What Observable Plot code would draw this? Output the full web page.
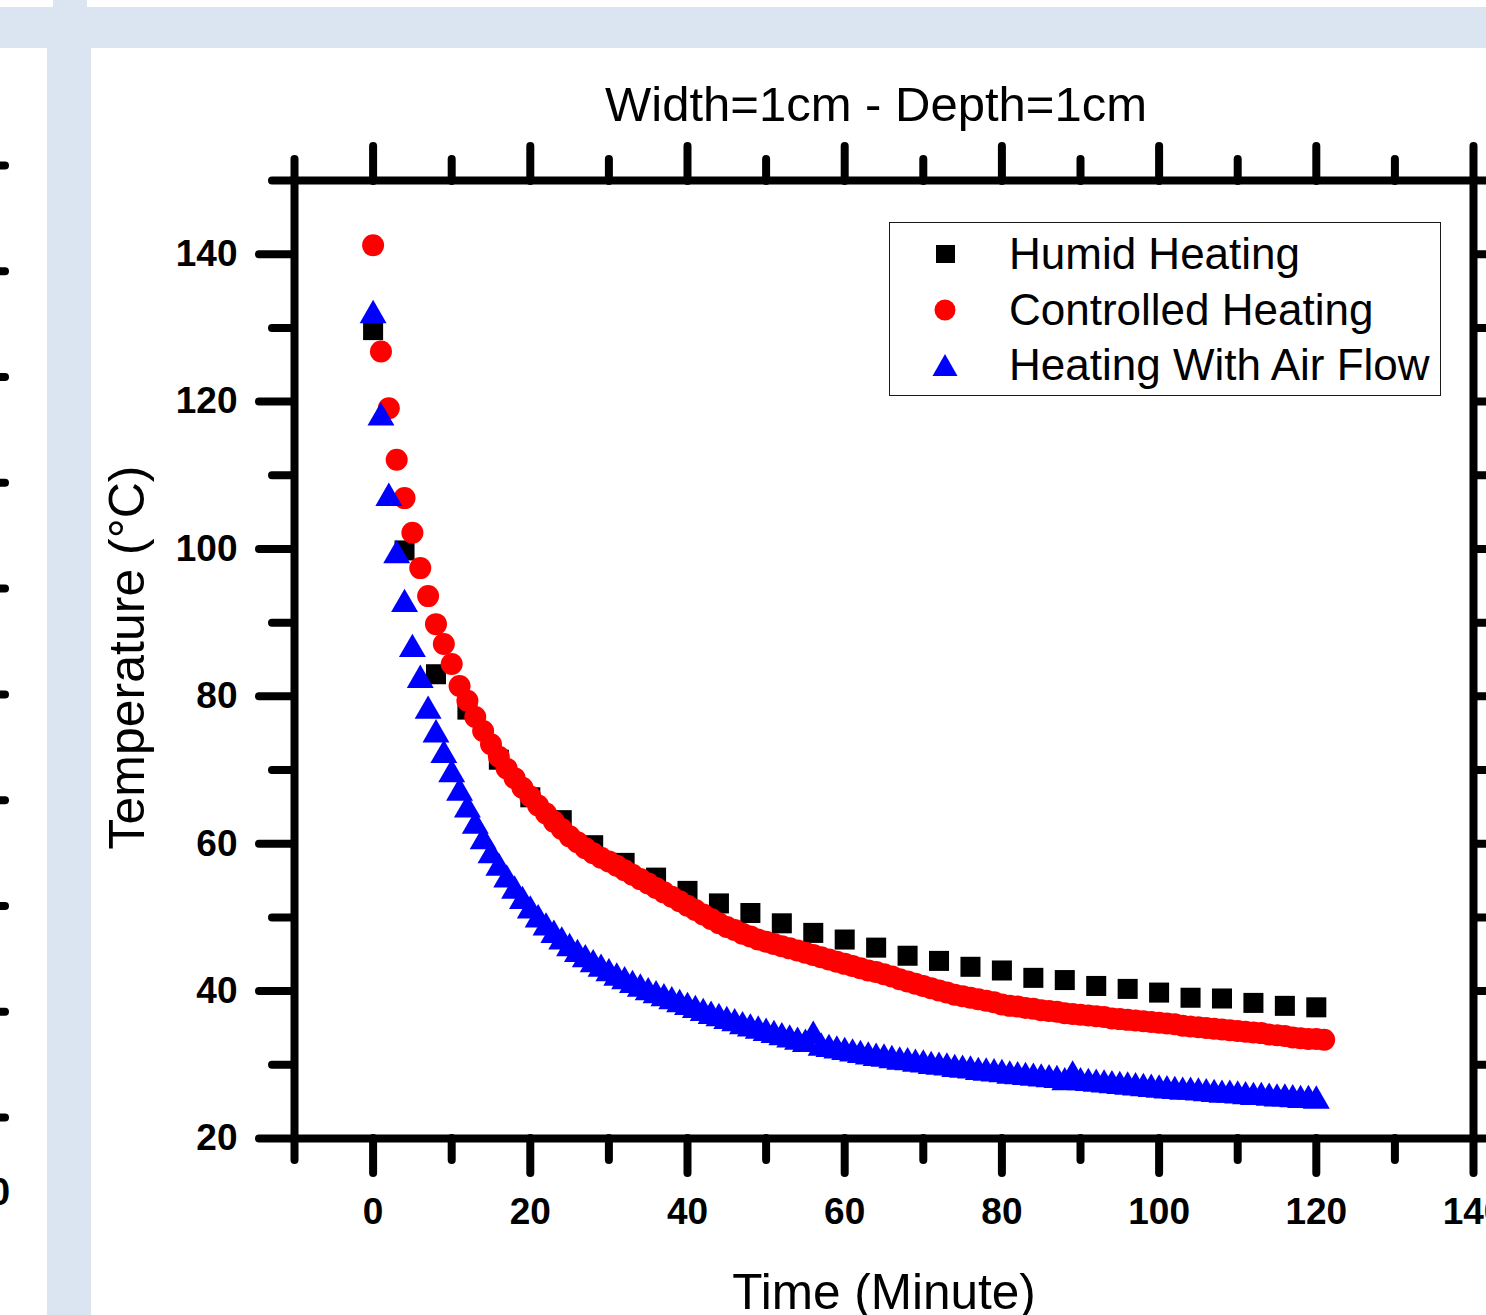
<!DOCTYPE html>
<html>
<head>
<meta charset="utf-8">
<script src="https://cdn.jsdelivr.net/npm/d3@7"></script>
<script src="https://cdn.jsdelivr.net/npm/@observablehq/plot@0.6"></script>
<style>
  html, body { margin: 0; padding: 0; background: #ffffff; }
  body { width: 1486px; height: 1315px; position: relative; overflow: hidden;
         font-family: Arial, "Liberation Sans", sans-serif; }
  .band { position: absolute; background: #dbe5f1; }
  #main { position: absolute; left: 91px; top: 50px; }
  #neighbor { position: absolute; left: 0px; top: 0px; }
  #legend { position: absolute; left: 889px; top: 222px; width: 550px; height: 172px;
            border: 1.5px solid #1a1a1a; background: #ffffff; }
  .row { position: absolute; left: 0; height: 44px; line-height: 44px; font-size: 44px; color: #000; }
  .row span { position: absolute; left: 119px; white-space: nowrap; }
  .row svg { position: absolute; left: 42px; top: 9px; }
  #zero { position: absolute; left: -11px; top: 1173px; font-size: 38px; line-height: 38px;
          font-weight: bold; color: #000; }
</style>
</head>
<body>
<div class="band" style="left:53px;top:0;width:34px;height:8px"></div>
<div class="band" style="left:0;top:7px;width:1486px;height:41px"></div>
<div class="band" style="left:47px;top:47px;width:44px;height:1268px"></div>
<div id="neighbor"></div>
<div id="zero">0</div>
<div id="main"></div>
<div id="legend"></div>
<script>
// ---- data ----
const chartTitle = "Width=1cm - Depth=1cm";
const xTitle = "Time (Minute)";
const yTitle = "Temperature (°C)";
const seriesNames = ["Humid Heating", "Controlled Heating", "Heating With Air Flow"];
const seriesColors = ["#000000", "#ff0000", "#0000ff"];

const xMajorTicks = [0, 20, 40, 60, 80, 100, 120, 140];
const xMinorTicks = [-10, 10, 30, 50, 70, 90, 110, 130];
const yMajorTicks = [20, 40, 60, 80, 100, 120, 140];
const yMinorTicks = [30, 50, 70, 90, 110, 130, 150];
const neighborTicks = [0, 1, 2, 3, 4, 5, 6, 7, 8, 9];

const humidTime = [0,4,8,12,16,20,24,28,32,36,40,44,48,52,56,60,64,68,72,76,80,84,88,92,96,100,104,108,112,116,120];
const humidTemp = [129.7,99.8,83.0,78.2,71.4,66.3,63.2,59.8,57.4,55.4,53.6,51.9,50.6,49.2,47.9,47.0,45.9,44.8,44.1,43.3,42.8,41.8,41.5,40.7,40.3,39.8,39.1,39.0,38.4,38.0,37.8];

const controlledTime = [0,1,2,3,4,5,6,7,8,9,10,11,12,13,14,15,16,17,18,19,20,21,22,23,24,25,26,27,28,29,30,31,32,33,34,35,36,37,38,39,40,41,42,43,44,45,46,47,48,49,50,51,52,53,54,55,56,57,58,59,60,61,62,63,64,65,66,67,68,69,70,71,72,73,74,75,76,77,78,79,80,81,82,83,84,85,86,87,88,89,90,91,92,93,94,95,96,97,98,99,100,101,102,103,104,105,106,107,108,109,110,111,112,113,114,115,116,117,118,119,120,121];
const controlledTemp = [141.2,126.8,119.1,112.1,106.9,102.2,97.4,93.6,89.8,87.1,84.4,81.4,79.4,77.2,75.3,73.5,71.8,70.2,68.9,67.6,
  66.4,65.2,64.1,63.0,62.0,61.0,60.2,59.4,58.7,58.1,57.6,57.0,56.4,55.8,55.2,54.6,54.0,53.4,52.8,52.2,
  51.6,51.0,50.4,49.8,49.2,48.7,48.3,47.8,47.4,47.0,46.7,46.4,46.1,45.8,45.5,45.2,44.9,44.6,44.3,44.0,
  43.7,43.4,43.1,42.8,42.6,42.3,42.0,41.6,41.3,41.0,40.7,40.4,40.1,39.8,39.5,39.3,39.1,38.9,38.7,38.5,
  38.2,38.0,37.9,37.7,37.6,37.4,37.3,37.2,37.0,36.9,36.8,36.7,36.6,36.5,36.3,36.2,36.1,36.0,35.9,35.8,
  35.7,35.6,35.5,35.3,35.2,35.1,35.0,34.9,34.8,34.7,34.6,34.5,34.4,34.3,34.1,34.0,33.9,33.7,33.6,33.5,
  33.5,33.4];

const airTime = [0,1,2,3,4,5,6,7,8,9,10,11,12,13,14,15,16,17,18,19,20,21,22,23,24,25,26,27,28,29,30,31,32,33,34,35,36,37,38,39,40,41,42,43,44,45,46,47,48,49,50,51,52,53,54,55,56,57,58,59,60,61,62,63,64,65,66,67,68,69,70,71,72,73,74,75,76,77,78,79,80,81,82,83,84,85,86,87,88,89,90,91,92,93,94,95,96,97,98,99,100,101,102,103,104,105,106,107,108,109,110,111,112,113,114,115,116,117,118,119,120];
const airTemp = [131.7,117.8,106.9,99.1,92.5,86.4,82.2,78.0,74.8,72.0,69.4,66.9,64.6,62.4,60.3,58.4,56.7,55.1,53.6,52.2,
  50.9,49.7,48.6,47.6,46.7,45.8,45.0,44.3,43.6,43.0,42.4,41.8,41.3,40.8,40.3,39.8,39.4,39.0,38.6,38.2,
  37.8,37.4,37.0,36.6,36.3,35.9,35.6,35.2,34.9,34.6,34.3,34.0,33.7,33.4,33.1,32.8,33.9,32.3,32.1,31.9,
  31.7,31.5,31.3,31.1,30.9,30.8,30.6,30.4,30.3,30.1,30.0,29.8,29.7,29.6,29.4,29.3,29.2,29.0,28.9,28.8,
  28.7,28.5,28.4,28.3,28.2,28.1,28.0,27.9,27.6,28.5,27.6,27.5,27.4,27.3,27.2,27.1,27.0,26.9,26.8,26.7,
  26.6,26.5,26.4,26.3,26.3,26.2,26.1,26.0,25.9,25.9,25.8,25.7,25.6,25.6,25.5,25.4,25.4,25.3,25.2,25.2,
  25.1];

// ---- tables built from the arrays ----
const humid = humidTime.map((t, i) => ({t, v: humidTemp[i]}));
const controlled = controlledTime.map((t, i) => ({t, v: controlledTemp[i]}));
const air = airTime.map((t, i) => ({t, v: airTemp[i]}));

const font = "Arial, 'Liberation Sans', sans-serif";
const tickStyle = {stroke: "#000", strokeWidth: 8, strokeLinecap: "round"};
const blank = () => "";

const chart = Plot.plot({
  width: 1395,
  height: 1265,
  marginLeft: 203,
  marginRight: 13,
  marginTop: 130,
  marginBottom: 177,
  style: {fontFamily: font, background: "transparent", overflow: "visible", color: "#000"},
  x: {domain: [-10, 140], label: null},
  y: {domain: [20, 150], label: null},
  marks: [
    Plot.dot(humid, {x: "t", y: "v", symbol: "square", r: 11.3, fill: seriesColors[0]}),
    Plot.dot(controlled, {x: "t", y: "v", symbol: "circle", r: 11, fill: seriesColors[1]}),
    Plot.dot(air, {x: "t", y: "v", symbol: "triangle", r: 10, fill: seriesColors[2]}),
    // outward ticks on all four sides
    Plot.axisX({anchor: "bottom", ticks: xMajorTicks, tickSize: 35, tickPadding: 24, label: null,
      fontSize: 37, fontWeight: "bold", ...tickStyle}),
    Plot.axisX({anchor: "bottom", ticks: xMinorTicks, tickSize: 22, tickFormat: blank, label: null, ...tickStyle}),
    Plot.axisX({anchor: "top", ticks: xMajorTicks, tickSize: 35, tickFormat: blank, label: null, ...tickStyle}),
    Plot.axisX({anchor: "top", ticks: xMinorTicks, tickSize: 22, tickFormat: blank, label: null, ...tickStyle}),
    Plot.axisY({anchor: "left", ticks: yMajorTicks, tickSize: 35, tickPadding: 22, label: null,
      fontSize: 37, fontWeight: "bold", ...tickStyle}),
    Plot.axisY({anchor: "left", ticks: yMinorTicks, tickSize: 22, tickFormat: blank, label: null, ...tickStyle}),
    Plot.axisY({anchor: "right", ticks: yMajorTicks, tickSize: 35, tickFormat: blank, label: null, ...tickStyle}),
    Plot.axisY({anchor: "right", ticks: yMinorTicks, tickSize: 22, tickFormat: blank, label: null, ...tickStyle}),
    Plot.frame({stroke: "#000", strokeWidth: 8}),
    // titles
    Plot.text([chartTitle], {text: d => d, frameAnchor: "top", textAnchor: "middle", lineAnchor: "middle",
      dx: -8, dy: -75, fontSize: 49, fill: "#000"}),
    Plot.text([xTitle], {text: d => d, frameAnchor: "bottom", textAnchor: "middle", lineAnchor: "middle",
      dy: 155, fontSize: 49.5, fill: "#000"}),
    Plot.text([yTitle], {text: d => d, frameAnchor: "left", textAnchor: "middle", lineAnchor: "middle",
      rotate: -90, dx: -167, dy: -2, fontSize: 50, fill: "#000"})
  ]
});
document.getElementById("main").appendChild(chart);

// fragment of the neighbouring chart at the left edge
const neighbor = Plot.plot({
  width: 47,
  height: 1315,
  marginLeft: 0,
  marginRight: 42,
  marginTop: 165,
  marginBottom: 198,
  style: {background: "transparent"},
  y: {domain: [0, 9], axis: null},
  marks: [
    Plot.tickY(neighborTicks, {y: d => d, stroke: "#000", strokeWidth: 8, strokeLinecap: "round"})
  ]
});
document.getElementById("neighbor").appendChild(neighbor);

// legend
const legend = document.getElementById("legend");
const symbols = [
  `<svg width="26" height="26"><rect x="4" y="4" width="19" height="18" fill="${seriesColors[0]}"/></svg>`,
  `<svg width="26" height="26"><circle cx="13" cy="13" r="10.5" fill="${seriesColors[1]}"/></svg>`,
  `<svg width="26" height="26"><path d="M13,2 L25.5,24 L0.5,24 Z" fill="${seriesColors[2]}"/></svg>`
];
const rowTops = [9, 65, 120];
seriesNames.forEach((name, i) => {
  const row = document.createElement("div");
  row.className = "row";
  row.style.top = rowTops[i] + "px";
  row.style.width = "550px";
  row.innerHTML = symbols[i] + `<span>${name}</span>`;
  legend.appendChild(row);
});
</script>
</body>
</html>
